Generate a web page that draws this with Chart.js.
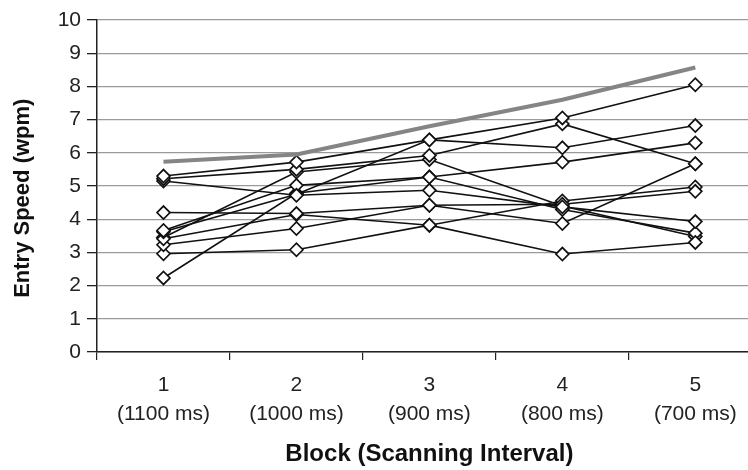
<!DOCTYPE html>
<html>
<head>
<meta charset="utf-8">
<script src="https://cdn.jsdelivr.net/npm/chart.js@4/dist/chart.umd.min.js"></script>
<style>
  html, body { margin: 0; padding: 0; background: #fff; overflow: hidden; }
  #wrap { width: 748px; height: 470px; overflow: hidden; }
</style>
</head>
<body>
<div id="wrap"><canvas id="speedChart" width="770" height="470"></canvas></div>
<script>
// blocks and scanning intervals
const blocks = ["1", "2", "3", "4", "5"];
const intervals = ["(1100 ms)", "(1000 ms)", "(900 ms)", "(800 ms)", "(700 ms)"];

// one row per participant, entry speed in wpm per block
const p1  = [5.30, 5.72, 6.39, 7.05, 8.05];
const p2  = [5.22, 5.50, 5.92, 6.87, 5.67];
const p3  = [5.15, 4.72, 4.87, 4.37, 3.93];
const p4  = [4.20, 4.17, 4.42, 4.45, 4.84];
const p5  = [3.66, 5.02, 5.27, 5.72, 6.30];
const p6  = [3.62, 4.75, 6.39, 6.15, 6.82];
const p7  = [3.41, 4.14, 3.82, 4.55, 4.97];
const p8  = [3.23, 3.72, 4.42, 3.87, 5.67];
const p9  = [2.96, 3.08, 3.82, 2.95, 3.30];
const p10 = [2.23, 4.78, 5.27, 4.29, 3.58];
const p11 = [3.45, 5.42, 5.80, 4.40, 3.48];

// grey line without markers
const trend = [5.73, 5.95, 6.80, 7.60, 8.57];

const participants = [p1, p2, p3, p4, p5, p6, p7, p8, p9, p10, p11];

let datasets = [];
datasets.push({
    data: trend,
    borderColor: '#858585',
    borderWidth: 4,
    pointRadius: 0,
    tension: 0
});
for (let i = 0; i < participants.length; i++) {
    datasets.push({
        data: participants[i],
        borderColor: '#111111',
        borderWidth: 1.6,
        pointStyle: 'rectRot',
        pointRadius: 6.5,
        pointBackgroundColor: '#ffffff',
        pointBorderColor: '#111111',
        pointBorderWidth: 1.7,
        tension: 0
    });
}

let labels = [];
for (let i = 0; i < blocks.length; i++) {
    labels.push([blocks[i], intervals[i]]);
}

const font = "'Liberation Sans', Arial, sans-serif";

let ctx = document.getElementById('speedChart');
new Chart(ctx, {
    type: 'line',
    data: {
        labels: labels,
        datasets: datasets
    },
    options: {
        responsive: false,
        animation: false,
        layout: { padding: { top: 20, right: 5, left: 0, bottom: 0 } },
        plugins: {
            legend: { display: false },
            tooltip: { enabled: false }
        },
        scales: {
            x: {
                offset: true,
                afterFit: function (scale) { scale.height = 118; },
                border: { color: '#222', width: 1.5 },
                grid: {
                    offset: true,
                    drawOnChartArea: false,
                    drawTicks: true,
                    tickLength: 8,
                    color: '#222',
                    lineWidth: 1.2
                },
                ticks: {
                    color: '#222',
                    padding: 11,
                    maxRotation: 0,
                    font: { family: font, size: 21, lineHeight: 1.38 }
                },
                title: {
                    display: true,
                    text: 'Block (Scanning Interval)',
                    color: '#111',
                    padding: { top: 4, bottom: 1 },
                    font: { family: font, size: 24, weight: 'bold' }
                }
            },
            y: {
                min: 0,
                max: 10,
                afterFit: function (scale) { scale.width = 97; },
                border: { color: '#222', width: 1.5 },
                grid: {
                    color: '#9a9a9a',
                    lineWidth: 1.3,
                    tickLength: 10,
                    tickColor: '#222'
                },
                ticks: {
                    stepSize: 1,
                    color: '#222',
                    padding: 6,
                    font: { family: font, size: 21 }
                },
                title: {
                    display: true,
                    // trailing spaces push the centred title a little lower, as in the original
                    text: 'Entry Speed (wpm)    ',
                    color: '#111',
                    padding: { top: 10, bottom: 4 },
                    font: { family: font, size: 22, weight: 'bold' }
                }
            }
        }
    }
});
</script>
</body>
</html>
